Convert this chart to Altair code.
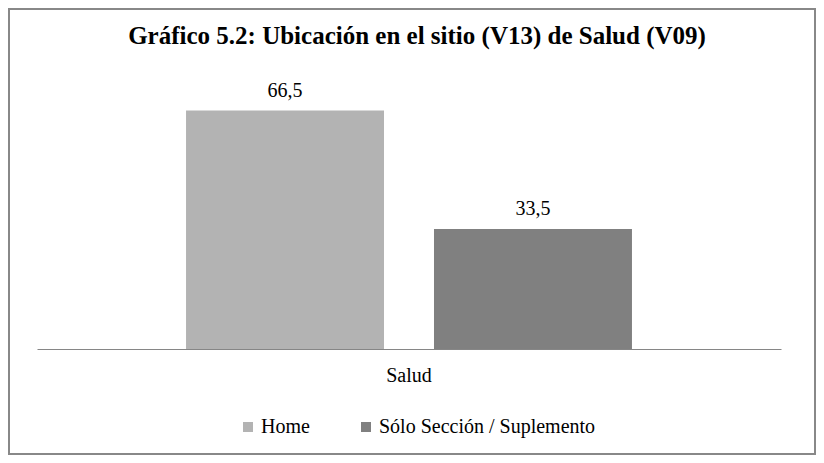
import altair as alt
import pandas as pd

categories = ["Salud", "Salud"]
series = ["Home", "Sólo Sección / Suplemento"]
values = [66.5, 33.5]
colors = ["#b3b3b3", "#808080"]
title_text = "Gráfico 5.2: Ubicación en el sitio (V13) de Salud (V09)"

df = pd.DataFrame({"cat": categories, "serie": series, "valor": values})

FONT = "Liberation Serif"
W, H = 744, 251
PAD = {"left": 29, "top": 90, "right": 35, "bottom": 106}

base = alt.Chart(df).transform_calculate(
    label="replace(format(datum.valor, '.1f'), '.', ',')"
).encode(
    x=alt.X(
        "cat:N",
        title=None,
        scale=alt.Scale(paddingInner=0, paddingOuter=0),
        axis=alt.Axis(
            labelAngle=0, ticks=False, domainColor="#868686", domainWidth=1,
            labelFont=FONT, labelFontWeight="normal", labelFontSize=20,
            labelPadding=16, labelColor="black", grid=False,
        ),
    ),
    xOffset=alt.XOffset(
        "serie:N", sort=series,
        scale=alt.Scale(paddingInner=0.2016, paddingOuter=0.601),
    ),
)

bars = base.mark_bar().encode(
    y=alt.Y("valor:Q", scale=alt.Scale(domain=[0, 70]), axis=None),
    color=alt.Color(
        "serie:N", sort=series,
        scale=alt.Scale(domain=series, range=colors),
        legend=alt.Legend(
            title=None, orient="none", direction="horizontal",
            legendX=201, legendY=319, padding=0,
            symbolType="square", symbolSize=100, symbolStrokeWidth=0,
            labelFont=FONT, labelFontWeight="normal", labelFontSize=20,
            labelColor="black", labelOffset=3, columnPadding=46, labelLimit=0,
        ),
    ),
)

text = base.mark_text(
    baseline="alphabetic", dy=-14, font=FONT, fontWeight="normal",
    fontSize=20, color="black"
).encode(
    y=alt.Y("valor:Q", axis=None),
    text="label:N",
)

ttl = alt.Chart(pd.DataFrame({"t": [title_text]})).mark_text(
    font=FONT, fontSize=25, fontWeight="bold", color="black", baseline="alphabetic"
).encode(
    x=alt.value(W / 2 + 8), y=alt.value(-54), text="t:N"
)

border = alt.Chart(pd.DataFrame({"a": [0]})).mark_rect(
    fillOpacity=0, stroke="#888888", strokeWidth=2
).encode(
    x=alt.value(-PAD["left"] + 1), x2=alt.value(W + PAD["right"] - 1),
    y=alt.value(-PAD["top"] + 1), y2=alt.value(H + PAD["bottom"] - 1),
)

chart = alt.layer(bars, text, ttl, border).properties(
    width=W, height=H, padding=PAD, autosize="none",
).configure_view(strokeWidth=0)

chart.save("out.html", embed_options={"renderer": "svg", "actions": False})
